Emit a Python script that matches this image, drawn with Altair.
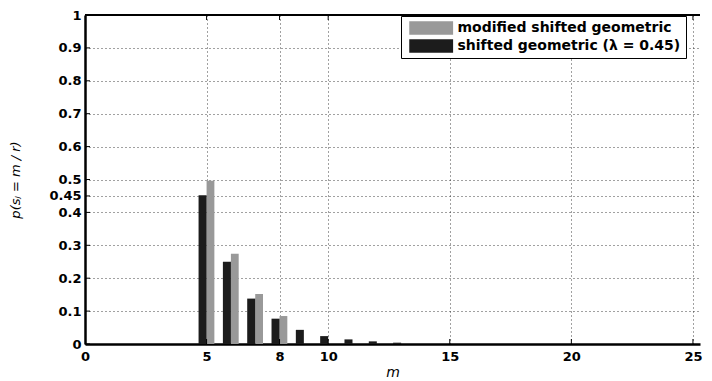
import altair as alt
import pandas as pd

# ---- data ----
m_gray = [5, 6, 7, 8]
p_gray = [0.496, 0.274, 0.152, 0.085]
m_black = [5, 6, 7, 8, 9, 10, 11, 12, 13]
p_black = [0.452, 0.25, 0.138, 0.077, 0.043, 0.024, 0.014, 0.008, 0.004]
series = ["modified shifted geometric", "shifted geometric (λ = 0.45)"]
colors = ["#999999", "#1c1c1c"]
y_ticks = [0, 0.1, 0.2, 0.3, 0.4, 0.45, 0.5, 0.6, 0.7, 0.8, 0.9, 1]
x_ticks = [0, 5, 8, 10, 15, 20, 25]
x_max = 25.29
x_title = "m"
y_title = "p(sⱼ = m / r)"

df = pd.DataFrame({
    "m": m_gray + m_black,
    "p": p_gray + p_black,
    "series": [series[0]] * len(m_gray) + [series[1]] * len(m_black),
})

W, H = 615, 329
FONT = "DejaVu Sans"

xscale = alt.Scale(domain=[0, x_max], nice=False, zero=False)
yscale = alt.Scale(domain=[0, 1], nice=False)

xaxis = alt.Axis(
    values=x_ticks, labelExpr="'' + datum.value", ticks=False, labelPadding=6,
    labelFont=FONT, labelFontWeight="bold", labelFontSize=13, labelColor="black",
    labelFlush=False, labelOverlap=False,
    domainColor="black", domainWidth=2.5,
    grid=True, gridColor="#222222", gridDash=[1, 3], gridWidth=1, gridOpacity=0.85,
    titleFont=FONT, titleFontStyle="italic", titleFontWeight="normal", titleFontSize=14,
    titleColor="black", titleY=32, titleBaseline="alphabetic",
)
yaxis = alt.Axis(
    values=y_ticks, labelExpr="'' + datum.value", ticks=False, labelPadding=4,
    labelFont=FONT, labelFontWeight="bold", labelFontSize=13, labelColor="black",
    labelFlush=False, labelOverlap=False,
    domainColor="black", domainWidth=2.5,
    grid=True, gridColor="#222222", gridDash=[1, 3], gridWidth=1, gridOpacity=0.85,
    titleFont=FONT, titleFontStyle="italic", titleFontWeight="normal", titleFontSize=13,
    titleColor="black", titleX=-70, titleY=H / 2, titleAngle=-90,
    titleAlign="center", titleBaseline="middle",
)

legend = alt.Legend(
    title=None, orient="none", legendX=316, legendY=1,
    strokeColor="black", fillColor="white", padding=5,
    symbolType="M-1,-1H5.5V1H-1Z", symbolSize=182, symbolStrokeWidth=0,
    symbolOpacity=1, symbolOffset=3,
    labelFont=FONT, labelFontWeight="bold", labelFontSize=14, labelColor="black",
    labelOffset=34.5, labelLimit=400, rowPadding=4,
)

bars = alt.Chart(df).transform_calculate(
    x0=f"datum.series === '{series[1]}' ? datum.m - 0.33 : datum.m",
    x1=f"datum.series === '{series[1]}' ? datum.m : datum.m + 0.32",
).mark_rect().encode(
    x=alt.X("x0:Q", scale=xscale, axis=xaxis, title=x_title),
    x2="x1:Q",
    y=alt.Y("p:Q", scale=yscale, axis=yaxis, title=y_title),
    y2=alt.datum(0),
    color=alt.Color("series:N", scale=alt.Scale(domain=series, range=colors), legend=legend),
)

ytick_df = pd.DataFrame({"v": y_ticks})
xtick_df = pd.DataFrame({"v": x_ticks[1:]})

y_in = alt.Chart(ytick_df).mark_rule(color="black", strokeWidth=1).encode(
    y=alt.Y("v:Q", scale=yscale, axis=yaxis, title=y_title), x=alt.value(0), x2=alt.value(5))
x_in_bottom = alt.Chart(xtick_df).mark_rule(color="black", strokeWidth=1).encode(
    x=alt.X("v:Q", scale=xscale, axis=xaxis, title=x_title), y=alt.value(H), y2=alt.value(H - 5))
x_in_top = alt.Chart(xtick_df).mark_rule(color="black", strokeWidth=1).encode(
    x=alt.X("v:Q", scale=xscale, axis=xaxis, title=x_title), y=alt.value(0), y2=alt.value(5))
top_line = alt.Chart(ytick_df).mark_rule(color="black", strokeWidth=2).encode(
    y=alt.value(0), x=alt.value(0), x2=alt.value(W))

chart = alt.layer(bars, y_in, x_in_bottom, x_in_top, top_line).properties(
    width=W, height=H,
    padding={"left": 77, "top": 7, "right": 4, "bottom": 36},
    autosize=alt.AutoSizeParams(type="none"),
).configure_view(stroke=None)

chart.save("out.html", embed_options={"renderer": "svg", "actions": False})
